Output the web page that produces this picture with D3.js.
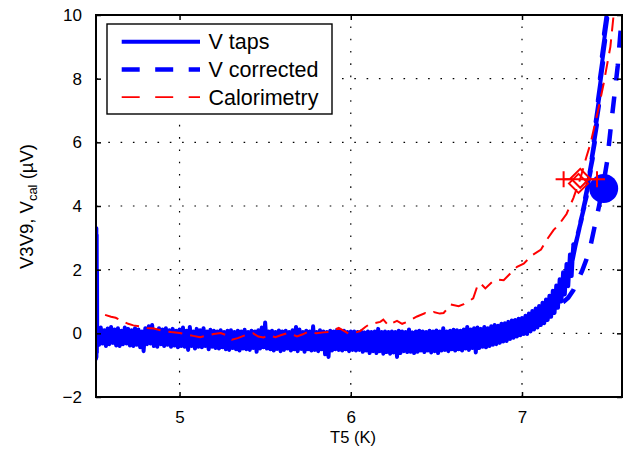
<!DOCTYPE html>
<html>
<head>
<meta charset="utf-8">
<script src="https://cdn.jsdelivr.net/npm/d3@7"></script>
<style>
  html, body { margin: 0; padding: 0; background: #fff; }
  svg { display: block; font-family: "Liberation Sans", Arial, Helvetica, sans-serif; }
</style>
</head>
<body>
<svg id="chart" width="627" height="459"></svg>
<script>
// Axis ticks
const xTicks = [5, 6, 7];
const yTicks = [-2, 0, 2, 4, 6, 8, 10];
const xDomain = [4.512, 7.584];
const yDomain = [-2, 10];

// Legend entries
const legendLabels = ["V taps", "V corrected", "Calorimetry"];

// V taps: measured voltage across taps (T5 in K, V in µV)
const vTaps = [
  [4.512,-0.8],[4.5125,3.3],[4.514,3.3],[4.5145,-0.75],[4.516,3.1],[4.517,-0.6],[4.518,2.0],[4.519,-0.4],
  [4.52,0.14],[4.53,-0.36],[4.54,0.18],[4.55,-0.32],[4.56,0.1],[4.57,-0.4],[4.58,0.15],[4.59,-0.34],[4.60,0.2],[4.61,-0.3],
  [4.62,0.12],[4.63,-0.38],[4.64,0.16],[4.65,-0.4],[4.66,0.08],[4.67,-0.34],[4.68,0.18],[4.69,-0.32],[4.70,0.14],[4.71,-0.38],
  [4.72,0.1],[4.73,-0.4],[4.74,0.16],[4.75,-0.36],[4.76,0.12],[4.77,-0.44],[4.78,0.06],[4.79,-0.56],[4.80,0.16],[4.81,-0.34],
  [4.82,0.22],[4.83,-0.32],[4.84,0.26],[4.85,-0.4],[4.86,0.1],[4.87,-0.42],[4.88,0.16],[4.89,-0.34],[4.90,0.12],[4.91,-0.4],
  [4.92,0.16],[4.93,-0.36],[4.94,0.1],[4.95,-0.42],[4.96,0.14],[4.97,-0.38],[4.98,0.08],[4.99,-0.44],[5.00,0.12],[5.01,-0.4],
  [5.02,0.18],[5.03,-0.42],[5.04,0.08],[5.05,-0.52],[5.06,0.2],[5.07,-0.4],[5.08,0.06],[5.09,-0.48],[5.10,0.14],[5.11,-0.42],
  [5.12,0.1],[5.13,-0.44],[5.14,0.16],[5.15,-0.4],[5.16,0.06],[5.17,-0.5],[5.18,0.11],[5.19,-0.42],[5.20,0.08],[5.21,-0.46],
  [5.22,0.06],[5.23,-0.48],[5.24,0.1],[5.25,-0.44],[5.26,0.04],[5.27,-0.5],[5.28,0.08],[5.29,-0.52],[5.30,0.1],[5.31,-0.46],
  [5.32,0.04],[5.33,-0.5],[5.34,0.08],[5.35,-0.54],[5.36,0.06],[5.37,-0.48],[5.38,0.11],[5.39,-0.5],[5.40,0.04],[5.41,-0.52],
  [5.42,0.08],[5.43,-0.46],[5.44,0.06],[5.45,-0.58],[5.46,0.1],[5.47,-0.48],[5.48,0.18],[5.49,-0.44],[5.50,0.34],[5.51,-0.48],
  [5.52,0.06],[5.53,-0.5],[5.54,0.08],[5.55,-0.54],[5.56,0.04],[5.57,-0.49],[5.58,0.09],[5.59,-0.56],[5.60,0.06],[5.61,-0.52],
  [5.62,0.08],[5.63,-0.48],[5.64,0.04],[5.65,-0.54],[5.66,0.1],[5.67,-0.5],[5.68,0.2],[5.69,-0.56],[5.70,0.12],[5.71,-0.49],
  [5.72,0.04],[5.73,-0.58],[5.74,0.08],[5.75,-0.5],[5.76,0.06],[5.77,-0.54],[5.78,0.22],[5.79,-0.52],[5.80,0.04],[5.81,-0.56],
  [5.82,0.1],[5.83,-0.5],[5.84,0.06],[5.85,-0.66],[5.86,0.04],[5.87,-0.74],[5.88,0.08],[5.89,-0.54],[5.90,0.06],[5.91,-0.5],
  [5.92,0.11],[5.93,-0.52],[5.94,0.06],[5.95,-0.54],[5.96,0.08],[5.97,-0.5],[5.98,0.04],[5.99,-0.56],[6.00,0.06],[6.01,-0.52],
  [6.02,0.06],[6.03,-0.54],[6.04,0.04],[6.05,-0.52],[6.06,0.06],[6.07,-0.58],[6.08,0.03],[6.09,-0.54],[6.10,0.06],[6.11,-0.62],
  [6.12,0.04],[6.13,-0.56],[6.14,0.06],[6.15,-0.62],[6.16,0.14],[6.17,-0.56],[6.18,0.04],[6.19,-0.64],[6.20,0.06],[6.21,-0.59],
  [6.22,0.04],[6.23,-0.64],[6.24,0.06],[6.25,-0.6],[6.26,0.04],[6.27,-0.74],[6.28,0.08],[6.29,-0.62],[6.30,0.06],[6.31,-0.56],
  [6.32,0.04],[6.33,-0.59],[6.34,0.12],[6.35,-0.58],[6.36,0.03],[6.37,-0.62],[6.38,0.06],[6.39,-0.58],[6.40,0.08],[6.41,-0.54],
  [6.42,0.06],[6.43,-0.59],[6.44,0.04],[6.45,-0.54],[6.46,0.08],[6.47,-0.6],[6.48,0.06],[6.49,-0.56],[6.50,0.09],[6.51,-0.62],
  [6.52,0.06],[6.53,-0.54],[6.54,0.16],[6.55,-0.52],[6.56,0.06],[6.57,-0.56],[6.58,0.08],[6.59,-0.5],[6.60,0.11],[6.61,-0.54],
  [6.62,0.1],[6.63,-0.5],[6.64,0.08],[6.65,-0.54],[6.66,0.12],[6.67,-0.48],[6.68,0.2],[6.69,-0.52],[6.70,0.12],[6.71,-0.46],
  [6.72,0.16],[6.73,-0.6],[6.74,0.18],[6.75,-0.46],[6.76,0.14],[6.77,-0.42],[6.78,0.2],[6.79,-0.44],[6.80,0.16],[6.81,-0.4],
  [6.82,0.22],[6.83,-0.36],[6.84,0.26],[6.85,-0.34],[6.86,0.24],[6.87,-0.3],[6.88,0.3],[6.89,-0.26],[6.90,0.32],[6.91,-0.24],
  [6.92,0.36],[6.93,-0.18],[6.94,0.4],[6.95,-0.14],[6.96,0.42],[6.97,-0.1],[6.98,0.46],[6.99,-0.06],[7.00,0.48],[7.01,-0.02],
  [7.02,0.55],[7.03,-0.02],[7.04,0.62],[7.05,0.06],[7.06,0.7],[7.07,0.12],[7.08,0.78],[7.09,0.18],[7.10,0.86],[7.11,0.26],
  [7.12,0.96],[7.13,0.32],[7.14,1.06],[7.15,0.42],[7.16,1.18],[7.17,0.52],[7.18,1.34],[7.19,0.64],[7.20,1.5],[7.21,0.8],
  [7.22,1.7],[7.23,1.0],[7.24,1.92],[7.25,1.22],[7.26,2.18],[7.27,1.48],[7.28,2.48],[7.29,1.8],[7.30,2.8],
  [7.292,2.2],[7.322,3.0],[7.302,2.5],[7.336,3.3],[7.314,2.85],[7.35,3.6],[7.326,3.15],[7.364,3.95],[7.34,3.5],
  [7.378,4.3],[7.354,3.85],[7.39,4.7],[7.368,4.25],[7.402,5.1],[7.382,4.65],[7.414,5.5],[7.394,5.05],[7.426,6.0],
  [7.406,5.5],[7.438,6.55],[7.418,6.05],[7.45,7.15],[7.43,6.65],[7.462,7.8],[7.442,7.3],[7.474,8.5],[7.454,8.0],
  [7.486,9.2],[7.466,8.7],[7.498,9.9],[7.478,9.4],[7.51,10.6],[7.49,10.2]
];

// V corrected
const vCorrected = [
  [6.90,0.05],[7.00,0.17],[7.10,0.5],[7.15,0.68],[7.20,0.85],[7.24,0.98],[7.27,1.12],[7.30,1.36],
  [7.32,1.6],[7.35,1.95],[7.375,2.3],[7.40,2.75],[7.42,3.25],[7.45,4.0],[7.477,4.75],[7.497,5.4],
  [7.516,6.35],[7.535,7.25],[7.559,8.4],[7.575,9.45],[7.59,10.3]
];

// Calorimetry
const vCal = [
  [4.565,0.58],[4.60,0.52],[4.627,0.49],[4.66,0.4],[4.70,0.3],[4.73,0.25],[4.77,0.22],[4.81,0.17],
  [4.85,0.15],[4.90,0.08],[4.95,0.04],[5.00,0.01],[5.03,-0.02],[5.08,-0.08],[5.12,-0.12],[5.16,-0.07],
  [5.20,-0.02],[5.24,0.01],[5.27,-0.05],[5.306,-0.2],[5.34,-0.15],[5.384,-0.06],[5.43,0.0],[5.46,-0.1],
  [5.49,-0.13],[5.52,-0.06],[5.56,-0.12],[5.59,-0.06],[5.627,0.0],[5.66,-0.04],[5.686,-0.1],[5.72,-0.03],
  [5.752,0.05],[5.78,0.02],[5.80,0.0],[5.84,0.03],[5.88,0.05],[5.91,0.12],[5.93,0.17],[5.96,0.08],
  [5.985,0.0],[6.02,0.01],[6.055,0.07],[6.085,0.2],[6.113,0.3],[6.14,0.32],[6.172,0.36],[6.19,0.43],
  [6.22,0.25],[6.245,0.33],[6.27,0.39],[6.30,0.3],[6.328,0.36],[6.36,0.45],[6.387,0.53],[6.435,0.64],
  [6.46,0.62],[6.484,0.67],[6.52,0.62],[6.542,0.64],[6.56,0.75],[6.581,0.91],[6.63,0.85],[6.66,0.92],
  [6.698,1.04],[6.715,1.1],[6.737,1.45],[6.756,1.58],[6.786,1.41],[6.825,1.61],[6.854,1.69],[6.893,1.67],
  [6.932,1.88],[6.971,2.09],[7.01,2.19],[7.058,2.45],[7.111,2.63],[7.146,2.95],[7.184,3.24],[7.22,3.45],
  [7.26,3.75],[7.30,4.25],[7.34,4.85],[7.376,5.54],[7.40,5.96],[7.444,7.0],[7.477,7.85],[7.516,9.0],
  [7.535,10.0],[7.55,10.6]
];

// Transition point markers
const calRange = [[7.243,4.84],[7.438,4.84]];   // calorimetry range (plus markers)
const calCentre = [[7.34,4.87],[7.33,4.71]];    // calorimetry estimate (diamonds)
const tapsPoint = [[7.477,4.55]];               // taps estimate (filled circle)

const svg = d3.select("#chart");
const W = 627, H = 459;
const m = {left: 96, top: 15, right: 5, bottom: 62};
const x = d3.scaleLinear().domain(xDomain).range([m.left, W - m.right]);
const y = d3.scaleLinear().domain(yDomain).range([H - m.bottom, m.top]);
const x0 = x.range()[0], x1 = x.range()[1], y0 = y.range()[0], y1 = y.range()[1];

svg.append("defs").append("clipPath").attr("id", "plotClip")
  .append("rect").attr("x", x0).attr("y", y1).attr("width", x1 - x0).attr("height", y0 - y1);

// dotted grid
const grid = svg.append("g").attr("stroke", "#000").attr("stroke-width", 1.2)
  .attr("stroke-dasharray", "1.6,10.7");
grid.selectAll(".gx").data(xTicks).join("line")
  .attr("x1", d => x(d)).attr("x2", d => x(d)).attr("y1", y0).attr("y2", y1);
grid.selectAll(".gy").data(yTicks).join("line")
  .attr("x1", x0).attr("x2", x1).attr("y1", d => y(d)).attr("y2", d => y(d));

// data
const line = d3.line().x(d => x(d[0])).y(d => y(d[1]));
const plot = svg.append("g").attr("clip-path", "url(#plotClip)");

plot.append("path").datum(vTaps).attr("d", line)
  .attr("fill", "none").attr("stroke", "#0000ff").attr("stroke-width", 4)
  .attr("stroke-linejoin", "round").attr("stroke-linecap", "round");

plot.append("path").datum(vCorrected).attr("d", line)
  .attr("fill", "none").attr("stroke", "#0000ff").attr("stroke-width", 4.5)
  .attr("stroke-dasharray", "17,16");

plot.append("path").datum(vCal).attr("d", line)
  .attr("fill", "none").attr("stroke", "#ff0000").attr("stroke-width", 2)
  .attr("stroke-dasharray", "14,8");

plot.selectAll(".tp").data(tapsPoint).join("circle")
  .attr("cx", d => x(d[0])).attr("cy", d => y(d[1])).attr("r", 14.5)
  .attr("fill", "#0000ff");

const mk = plot.append("g").attr("stroke", "#ff0000").attr("stroke-width", 2).attr("fill", "none");
mk.append("path").datum(calRange).attr("d", line);
mk.selectAll(".pl").data(calRange).join("path")
  .attr("d", d => `M${x(d[0]) - 8},${y(d[1])}H${x(d[0]) + 8}M${x(d[0])},${y(d[1]) - 8}V${y(d[1]) + 8}`);
mk.selectAll(".dm").data(calCentre).join("path")
  .attr("d", d => { const cx = x(d[0]), cy = y(d[1]), r = 9.5;
    return `M${cx},${cy - r}L${cx + r},${cy}L${cx},${cy + r}L${cx - r},${cy}Z`; });

// axes
const fs = 17;
const axB = svg.append("g").attr("transform", `translate(0,${y0})`)
  .call(d3.axisBottom(x).tickValues(xTicks).tickSize(-5).tickSizeOuter(0).tickPadding(14)
    .tickFormat(d3.format("d")));
const axL = svg.append("g").attr("transform", `translate(${x0},0)`)
  .call(d3.axisLeft(y).tickValues(yTicks).tickSize(-5).tickSizeOuter(0).tickPadding(14)
    .tickFormat(d => d < 0 ? "\u2212" + Math.abs(d) : String(d)));
const axT = svg.append("g").attr("transform", `translate(0,${y1})`)
  .call(d3.axisTop(x).tickValues(xTicks).tickSize(-5).tickSizeOuter(0).tickFormat(""));
const axR = svg.append("g").attr("transform", `translate(${x1},0)`)
  .call(d3.axisRight(y).tickValues(yTicks).tickSize(-5).tickSizeOuter(0).tickFormat(""));
[axB, axL, axT, axR].forEach(a => {
  a.select(".domain").remove();
  a.selectAll(".tick line").attr("stroke", "#000").attr("stroke-width", 1.5);
  a.selectAll("text").attr("font-size", fs).attr("fill", "#000")
    .attr("font-family", "Liberation Sans, Arial, sans-serif");
});

svg.append("rect").attr("x", x0).attr("y", y1).attr("width", x1 - x0).attr("height", y0 - y1)
  .attr("fill", "none").attr("stroke", "#000").attr("stroke-width", 2);

// axis labels
svg.append("text").attr("x", 353).attr("y", 443).attr("text-anchor", "middle")
  .attr("font-size", 16.5).text("T5 (K)");

const yl = svg.append("text").attr("transform", "translate(33,206.5) rotate(-90)")
  .attr("text-anchor", "middle").attr("font-size", 18.5);
yl.append("tspan").text("V3V9, V");
yl.append("tspan").attr("font-size", 13).attr("dy", 4).text("cal");
yl.append("tspan").attr("dy", -4).text(" (\u00b5V)");

// legend
const lg = svg.append("g");
lg.append("rect").attr("x", 107).attr("y", 24).attr("width", 225).attr("height", 90)
  .attr("fill", "#fff").attr("stroke", "#000").attr("stroke-width", 1.4);
const rowY = [41.7, 69.4, 97.2];
const legStyle = [
  {stroke: "#0000ff", w: 4, dash: null},
  {stroke: "#0000ff", w: 4.5, dash: "18,15.5"},
  {stroke: "#ff0000", w: 1.8, dash: "18,15.5"}
];
legendLabels.forEach((lab, i) => {
  lg.append("line").attr("x1", 121.7).attr("x2", 200).attr("y1", rowY[i]).attr("y2", rowY[i])
    .attr("stroke", legStyle[i].stroke).attr("stroke-width", legStyle[i].w)
    .attr("stroke-dasharray", legStyle[i].dash);
  lg.append("text").attr("x", 208.5).attr("y", rowY[i] + 7.3).attr("font-size", 21.5).text(lab);
});
</script>
</body>
</html>
